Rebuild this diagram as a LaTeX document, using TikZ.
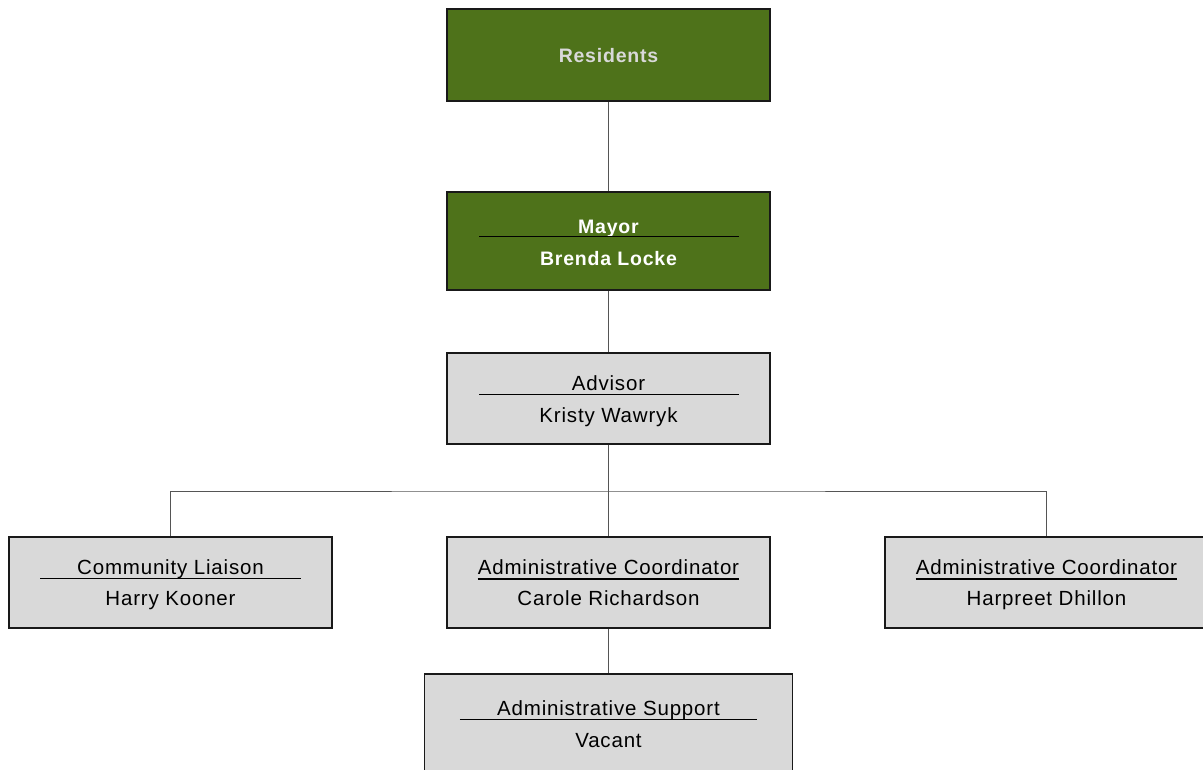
\documentclass[tikz,border=0pt]{standalone}
\usepackage{fontspec}
\setmainfont{Liberation Sans}[LetterSpace=4]
\usetikzlibrary{calc}
\definecolor{leadgreen}{RGB}{78,114,26}
\definecolor{staffgray}{RGB}{217,217,217}
\definecolor{linkgray}{RGB}{85,85,85}
\definecolor{framegray}{RGB}{25,25,25}
\begin{document}
\begin{tikzpicture}[x=1pt,y=-1pt,
  box/.style={draw=framegray, line width=1.4pt, rectangle, inner sep=0pt,
              minimum width=323pt, minimum height=91pt},
  leader/.style={box, fill=leadgreen},
  staff/.style={box, fill=staffgray},
  lbl/.style={anchor=base, inner sep=0pt, font=\fontsize{20.5}{24}\selectfont, text=black},
  boldlbl/.style={lbl, font=\fontsize{19.5}{23}\selectfont\bfseries, text=white},
  sep/.style={line width=1.3pt, black},
  link/.style={line width=1pt, draw=linkgray}]
\clip (0,0) rectangle (1203,769);
\fill[white] (0,0) rectangle (1203,769);

% boxes
\node[leader, minimum height=92pt] (res) at (608.5,55) {};
\node[leader, minimum height=98pt] (may) at (608.5,241) {};
\node[staff] (adv) at (608.5,398.5) {};
\node[staff] (com) at (170.5,582.5) {};
\node[staff] (car) at (608.5,582.5) {};
\node[staff] (har) at (1046.5,582.5) {};
\node[staff, minimum width=368pt, minimum height=130pt] (sup) at (608.5,739) {};

% connectors
\coordinate (bus) at (608.5,491);
\draw[link] (res.south) -- (may.north);
\draw[link] (may.south) -- (adv.north);
\draw[link] (adv.south) -- (bus);
\draw[link] (com.north) |- (bus) -| (har.north);
\draw[link] (bus) -- (car.north);
\draw[link] (car.south) -- (sup.north);

% texts
\node[boldlbl, text=staffgray] (resT) at (608.5,62) {Residents};
\node[boldlbl] (mayT) at (608.5,233) {Mayor};
\node[boldlbl] (mayN) at (608.5,265) {Brenda Locke};
\draw[sep] ($(may.north west)+(33,45)$) -- ($(may.north east)+(-32,45)$);

\node[lbl] (advT) at (608.5,390) {Advisor};
\node[lbl] (advN) at (608.5,422) {Kristy Wawryk};
\draw[sep] ($(adv.north west)+(33,42)$) -- ($(adv.north east)+(-32,42)$);

\node[lbl] (comT) at (170.5,574) {Community Liaison};
\node[lbl] (comN) at (170.5,605) {Harry Kooner};
\draw[sep] ($(com.north west)+(32,42)$) -- ($(com.north east)+(-32,42)$);

\node[lbl] (carT) at (608.5,574) {Administrative Coordinator};
\node[lbl] (carN) at (608.5,605) {Carole Richardson};
\draw[sep] ($(carT.base west)+(0,5)$) -- ($(carT.base east)+(0,5)$);

\node[lbl] (harT) at (1046.5,574) {Administrative Coordinator};
\node[lbl] (harN) at (1046.5,605) {Harpreet Dhillon};
\draw[sep] ($(harT.base west)+(0,5)$) -- ($(harT.base east)+(0,5)$);

\node[lbl] (supT) at (608.5,715) {Administrative Support};
\node[lbl] (supN) at (608.5,747) {Vacant};
\draw[sep] ($(sup.north west)+(36,46)$) -- ($(sup.north east)+(-36,46)$);
\end{tikzpicture}
\end{document}
